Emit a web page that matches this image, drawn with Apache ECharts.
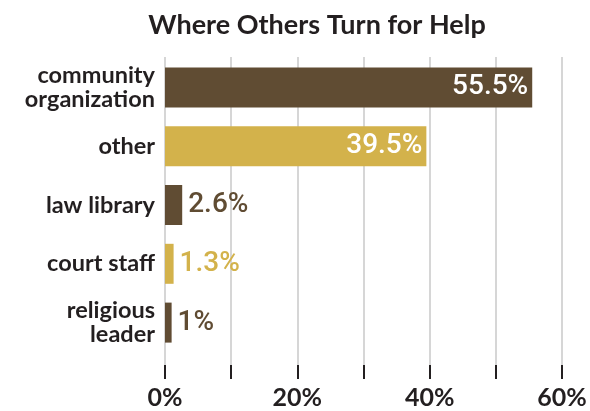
<!DOCTYPE html>
<html><head><meta charset="utf-8">
<script src="https://cdn.jsdelivr.net/npm/echarts@6/dist/echarts.min.js"></script>
<style>html,body{margin:0;padding:0;background:#fff}#c{width:590px;height:411px}</style>
</head><body><div id="c"></div>
<script>
const categories = ["community\norganization", "other", "law library", "court staff", "religious\nleader"];
const values = [55.5, 39.5, 2.6, 1.3, 1];
const barColors = ["#604c33", "#d3b24b", "#604c33", "#d3b24b", "#604c33"];
const insideLabel = [true, true, false, false, false];
const xTicks = [0, 10, 20, 30, 40, 50, 60];
const xLabelShown = [0, 20, 40, 60];

const dark = "#231f20";
const valFont = "Roboto, sans-serif";
const chart = echarts.init(document.getElementById('c'));
chart.setOption({
  animation: false,
  title: {
    text: "Where Others Turn for Help", left: 312, top: 7, textAlign: 'center',
    textStyle: {fontFamily: 'Lato', fontWeight: 'bold', fontSize: 27, color: dark}
  },
  grid: [
    {left: 165, right: 28, top: 58, height: 294},
    {left: 165, right: 28, top: 57, bottom: 46}
  ],
  xAxis: [
    {gridIndex: 0, type: 'value', min: xTicks[0], max: xTicks[xTicks.length-1], interval: 10, show: false},
    {gridIndex: 1, type: 'value', min: xTicks[0], max: xTicks[xTicks.length-1], interval: 10, offset: 3,
     axisLine: {show: false},
     axisTick: {show: true, length: 14, lineStyle: {color: dark, width: 2}},
     splitLine: {show: true, lineStyle: {color: '#c9c9c9', width: 1.5}},
     axisLabel: {margin: 17, color: dark, fontFamily: 'Lato', fontWeight: 'bold', fontSize: 25,
       formatter: v => xLabelShown.includes(v) ? v + '%' : ''}}
  ],
  yAxis: [
    {gridIndex: 0, type: 'category', data: categories, inverse: true,
     axisLine: {show: false}, axisTick: {show: false},
     axisLabel: {margin: 10, color: dark, fontFamily: 'Lato', fontWeight: 'bold', fontSize: 23.5, lineHeight: 24, align: 'right'}},
    {gridIndex: 1, type: 'value', show: false}
  ],
  series: [{
    type: 'bar', xAxisIndex: 0, yAxisIndex: 0, barWidth: 40,
    data: values.map((v, i) => ({
      value: v,
      itemStyle: {color: barColors[i]},
      label: {
        show: true,
        position: insideLabel[i] ? 'insideRight' : 'right',
        distance: insideLabel[i] ? 4 : 6,
        color: insideLabel[i] ? '#ffffff' : barColors[i],
        fontFamily: valFont, fontWeight: 500, fontSize: 28,
        formatter: p => p.value + '%'
      }
    }))
  }]
});
</script></body></html>
